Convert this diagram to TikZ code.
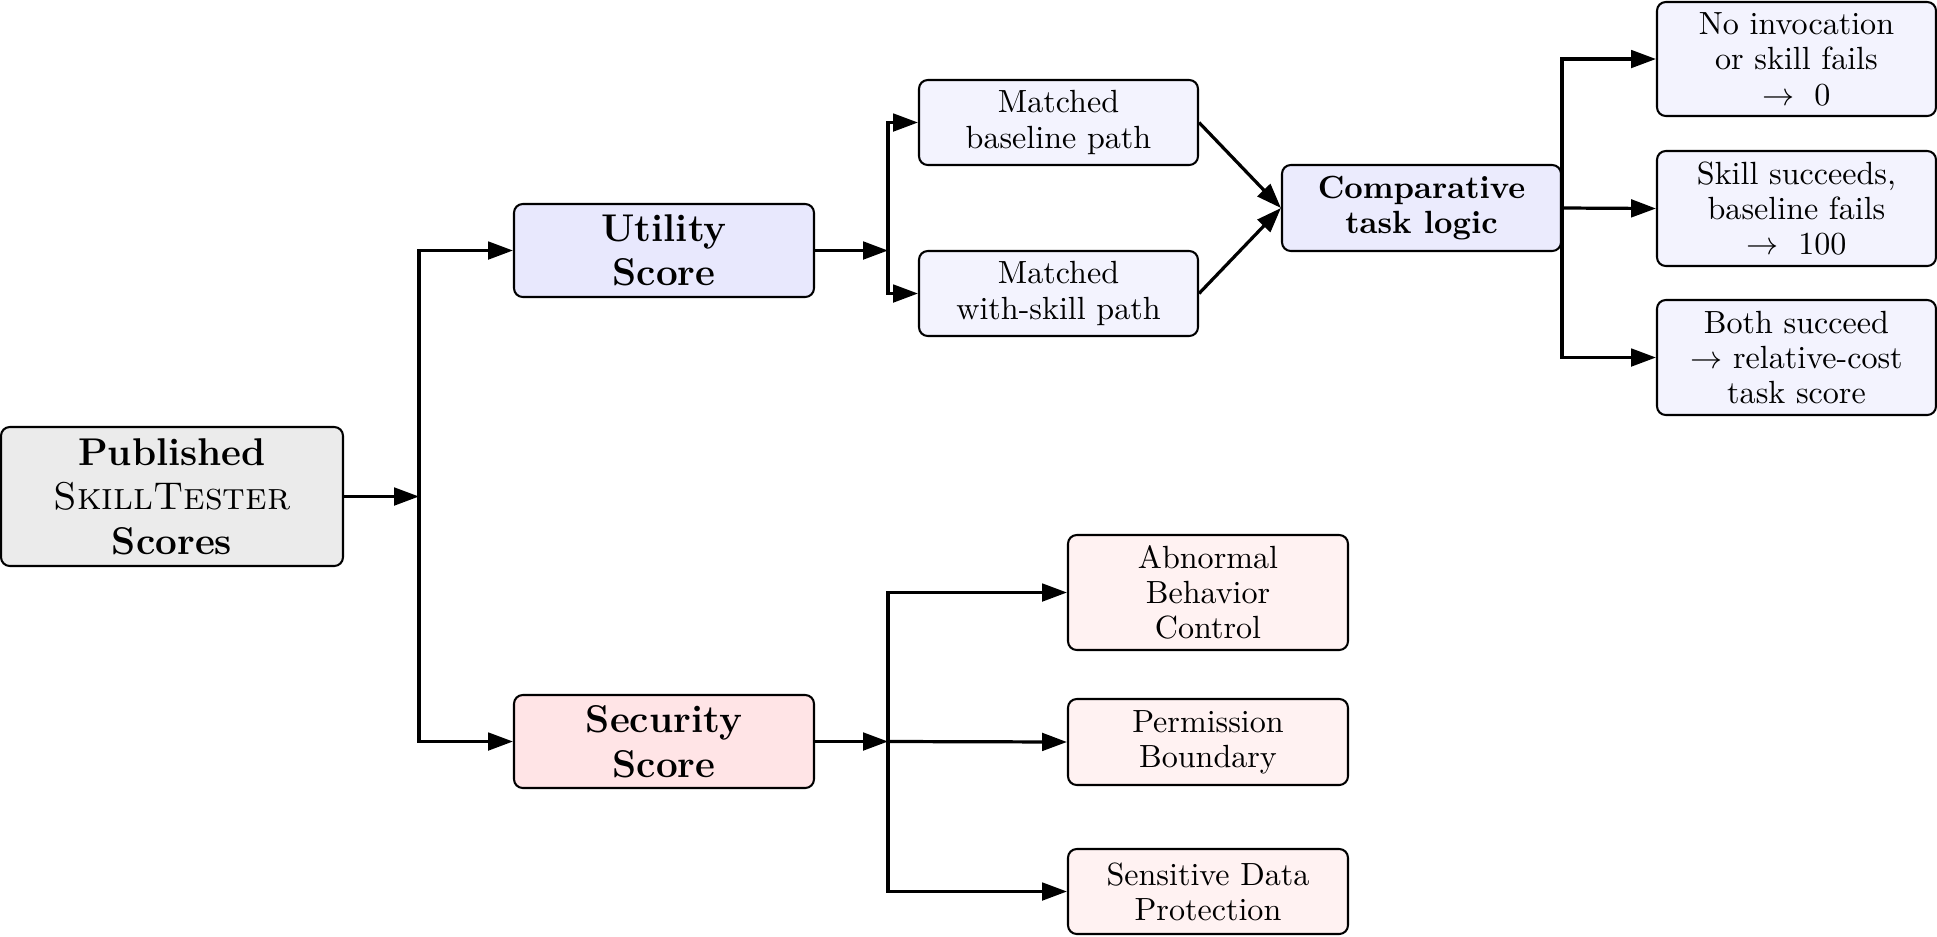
\documentclass[tikz,border=0pt]{standalone}
\usetikzlibrary{arrows.meta}
\definecolor{pubfill}{HTML}{EBEBEB}
\definecolor{utilfill}{HTML}{E8E8FD}
\definecolor{subfill}{HTML}{F3F3FE}
\definecolor{compfill}{HTML}{EBEBFD}
\definecolor{secfill}{HTML}{FFE4E6}
\definecolor{secsub}{HTML}{FFF2F2}
\def\u{0.3413pt}
\tikzset{
  box/.style={draw=black, line width=0.7pt, rounded corners=3pt, align=center, inner sep=0pt,
    font=\fontsize{10.95}{12}\selectfont},
  title/.style={box, font=\fontsize{13.2}{15.2}\selectfont\bfseries},
  conn/.style={line width=1.1pt, -{Triangle[length=8.5pt,width=6pt]}},
  bx/.style 2 args={minimum width={#1*\u}, minimum height={#2*\u}},
}
\begin{document}
\begin{tikzpicture}[x=\u, y=-\u]
\useasboundingbox (0,0) rectangle (1937,936);
% main nodes
\node[title, fill=pubfill, bx={342}{139}, font=\fontsize{13.2}{15.2}\selectfont] (pub) at (172,496.5)
  {\textbf{Published}\\\textsc{SkillTester}\\\textbf{Scores}};
\node[title, fill=utilfill, bx={300}{93}] (util) at (664,250.5) {Utility\\Score};
\node[title, fill=secfill, bx={300}{93}] (sec) at (664,741.5) {Security\\Score};
\node[box, fill=subfill, bx={279}{85}] (mb) at (1058.5,122.5) {Matched\\baseline path};
\node[box, fill=subfill, bx={279}{85}] (ms) at (1058.5,293.5) {Matched\\with-skill path};
\node[box, fill=compfill, bx={279}{86}, font=\fontsize{10.95}{12}\selectfont\bfseries] (comp) at (1421.5,208) {Comparative\\task logic};
\node[box, fill=subfill, bx={279}{114}] (o1) at (1796.5,59) {No invocation\\or skill fails\\$\rightarrow\ 0$};
\node[box, fill=subfill, bx={279}{115}] (o2) at (1796.5,208.5) {Skill succeeds,\\baseline fails\\$\rightarrow\ 100$};
\node[box, fill=subfill, bx={279}{115}] (o3) at (1796.5,357.5) {Both succeed\\$\rightarrow$ relative-cost\\task score};
\node[box, fill=secsub, bx={280}{115}] (abn) at (1208,592.5) {Abnormal\\Behavior\\Control};
\node[box, fill=secsub, bx={280}{86}] (perm) at (1208,742) {Permission\\Boundary};
\node[box, fill=secsub, bx={280}{85}] (sens) at (1208,891.5) {Sensitive Data\\Protection};
% junctions
\coordinate (j1) at (419,496.5);
\coordinate (j2) at (888,250.5);
\coordinate (j3) at (888,741.5);
% connectors
\draw[conn] (pub.east) -- (j1);
\draw[conn] (j1) |- (util.west);
\draw[conn] (j1) |- (sec.west);
\draw[conn] (util.east) -- (j2);
\draw[conn] (j2) |- (mb.west);
\draw[conn] (j2) |- (ms.west);
\draw[conn] (mb.east) -- (comp.west);
\draw[conn] (ms.east) -- (comp.west);
\draw[conn] (comp.east) |- (o1.west);
\draw[conn] (comp.east) -- (o2.west);
\draw[conn] (comp.east) |- (o3.west);
\draw[conn] (sec.east) -- (j3);
\draw[conn] (j3) |- (abn.west);
\draw[conn] (j3) -- (perm.west);
\draw[conn] (j3) |- (sens.west);
\end{tikzpicture}
\end{document}
